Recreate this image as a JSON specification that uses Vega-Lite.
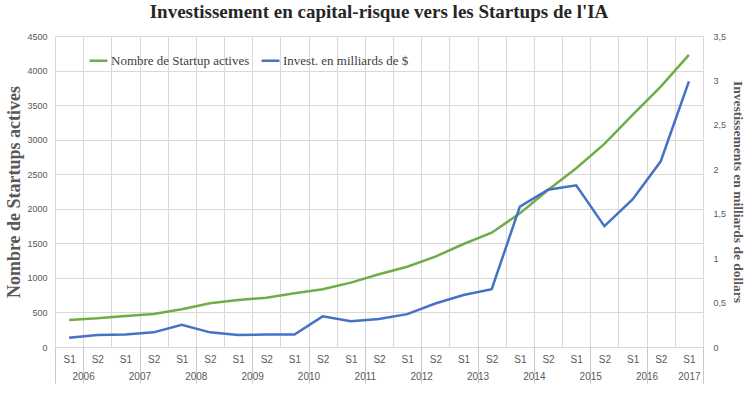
{
  "$schema": "https://vega.github.io/schema/vega-lite/v6.json",
  "width": 648,
  "height": 311,
  "autosize": "none",
  "padding": {"left": 55, "top": 36, "right": 51, "bottom": 50},
  "background": "white",
  "config": {"view": {"stroke": null}},
  "title": {
    "text": "Investissement en capital-risque vers les Startups de l'IA",
    "font": "Liberation Serif",
    "fontSize": 19,
    "fontWeight": "bold",
    "color": "#262626",
    "anchor": "middle",
    "offset": 10
  },
  "data": {
    "values": [
      {"period": "2006 S1", "startups": 391, "invest": 0.105},
      {"period": "2006 S2", "startups": 415, "invest": 0.135},
      {"period": "2007 S1", "startups": 449, "invest": 0.14},
      {"period": "2007 S2", "startups": 477, "invest": 0.165},
      {"period": "2008 S1", "startups": 545, "invest": 0.25},
      {"period": "2008 S2", "startups": 632, "invest": 0.165},
      {"period": "2009 S1", "startups": 680, "invest": 0.135},
      {"period": "2009 S2", "startups": 714, "invest": 0.14},
      {"period": "2010 S1", "startups": 777, "invest": 0.14},
      {"period": "2010 S2", "startups": 835, "invest": 0.345},
      {"period": "2011 S1", "startups": 931, "invest": 0.29},
      {"period": "2011 S2", "startups": 1052, "invest": 0.315},
      {"period": "2012 S1", "startups": 1162, "invest": 0.37},
      {"period": "2012 S2", "startups": 1307, "invest": 0.49},
      {"period": "2013 S1", "startups": 1490, "invest": 0.585},
      {"period": "2013 S2", "startups": 1654, "invest": 0.65},
      {"period": "2014 S1", "startups": 1934, "invest": 1.58},
      {"period": "2014 S2", "startups": 2272, "invest": 1.77},
      {"period": "2015 S1", "startups": 2586, "invest": 1.82},
      {"period": "2015 S2", "startups": 2938, "invest": 1.36},
      {"period": "2016 S1", "startups": 3357, "invest": 1.66},
      {"period": "2016 S2", "startups": 3767, "invest": 2.09},
      {"period": "2017 S1", "startups": 4226, "invest": 2.99}
    ]
  },
  "layer": [
    {
      "mark": {"type": "line", "strokeWidth": 2.5},
      "encoding": {
        "x": {
          "field": "period", "type": "ordinal", "sort": null,
          "scale": {"type": "band", "paddingInner": 0, "paddingOuter": 0},
          "axis": {
            "orient": "bottom",
            "title": null,
            "domain": false,
            "ticks": false,
            "tickBand": "extent",
            "grid": true,
            "gridColor": "#d9d9d9",
            "labelAngle": 0,
            "labelExpr": "split(datum.value, ' ')[1]",
            "labelFont": "Liberation Sans",
            "labelFontSize": 10,
            "labelColor": "#595959",
            "labelPadding": 7
          }
        },
        "y": {
          "field": "startups", "type": "quantitative",
          "scale": {"domain": [0, 4500], "nice": false},
          "axis": {
            "orient": "left",
            "title": "Nombre de Startups actives",
            "titleFont": "Liberation Serif",
            "titleFontSize": 18,
            "titleFontWeight": "bold",
            "titleColor": "#595959",
            "titlePadding": 3,
            "values": [0, 500, 1000, 1500, 2000, 2500, 3000, 3500, 4000, 4500],
            "format": "d",
            "domain": false,
            "ticks": false,
            "grid": true,
            "gridColor": "#d9d9d9",
            "labelFont": "Liberation Sans",
            "labelFontSize": 9,
            "labelColor": "#595959",
            "labelPadding": 8
          }
        },
        "color": {
          "datum": "Nombre de Startup actives",
          "scale": {
            "domain": ["Nombre de Startup actives", "Invest. en milliards de $"],
            "range": ["#70AD47", "#4472C4"]
          },
          "legend": {
            "title": null,
            "orient": "none",
            "legendX": 33,
            "legendY": 14,
            "direction": "horizontal",
            "symbolType": "stroke",
            "symbolStrokeWidth": 2.5,
            "symbolSize": 320,
            "labelFont": "Liberation Serif",
            "labelFontSize": 13,
            "labelColor": "#404040",
            "labelOffset": 2,
            "columnPadding": 6
          }
        }
      }
    },
    {
      "mark": {"type": "line", "strokeWidth": 2.5},
      "encoding": {
        "x": {
          "field": "period", "type": "ordinal", "sort": null,
          "scale": {"type": "band", "paddingInner": 0, "paddingOuter": 0},
          "axis": {
            "orient": "bottom",
            "title": null,
            "domain": false,
            "grid": false,
            "ticks": true,
            "tickBand": "extent",
            "tickSize": 36,
            "tickWidth": 1,
            "tickColor": "#c8c8c8",
            "tickOpacity": {"condition": {"test": "isString(datum.value) && indexof(datum.value, 'S2') >= 0", "value": 0}, "value": 1},
            "labelAngle": 0,
            "labelExpr": "test(/S1/, datum.value) ? slice(datum.value, 0, 4) : ''",
            "labelOffset": {"condition": {"test": "datum.value == '2017 S1'", "value": 0}, "value": 14},
            "labelFont": "Liberation Sans",
            "labelFontSize": 10,
            "labelColor": "#595959",
            "labelPadding": -12
          }
        },
        "y": {
          "field": "invest", "type": "quantitative",
          "scale": {"domain": [0, 3.5], "nice": false},
          "axis": {
            "orient": "right",
            "title": "Investissements en milliards de dollars",
            "titleFont": "Liberation Serif",
            "titleFontSize": 13.5,
            "titleFontWeight": "bold",
            "titleColor": "#595959",
            "titlePadding": 5,
            "values": [0, 0.5, 1, 1.5, 2, 2.5, 3, 3.5],
            "format": "~g",
            "labelExpr": "replace(datum.label, '.', ',')",
            "domain": false,
            "ticks": false,
            "grid": false,
            "labelFont": "Liberation Sans",
            "labelFontSize": 9,
            "labelColor": "#595959",
            "labelPadding": 10
          }
        },
        "color": {"datum": "Invest. en milliards de $"}
      }
    }
  ],
  "resolve": {
    "scale": {"y": "independent", "x": "shared", "color": "shared"},
    "axis": {"x": "independent", "y": "independent"}
  }
}
